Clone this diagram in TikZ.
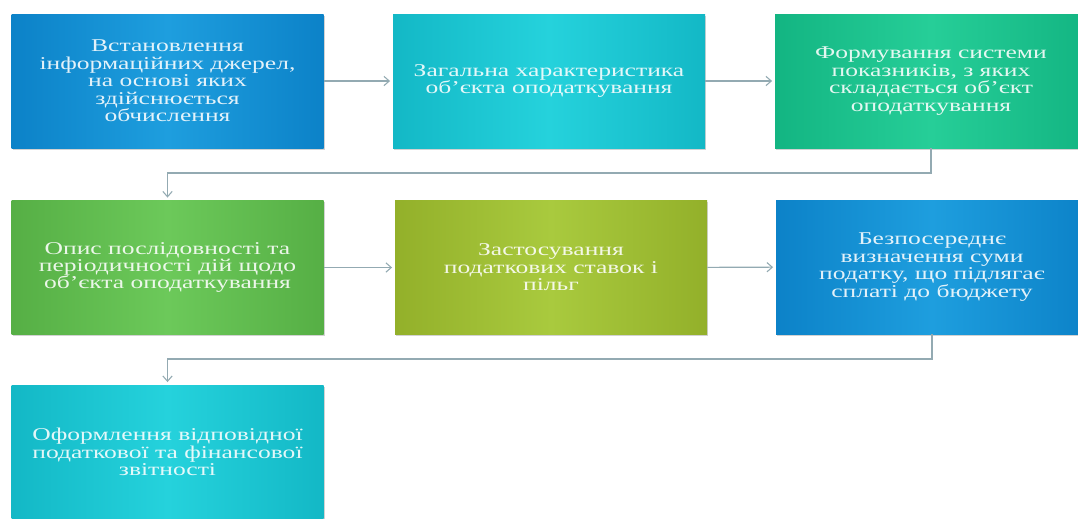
\documentclass[tikz,border=0pt]{standalone}
\usepackage{xcolor}
\usepackage{fontspec}
\setmainfont{Liberation Serif}[FakeStretch=1.42]
\usepackage{tikz}
\usetikzlibrary{arrows.meta,shadows}
\definecolor{C1}{HTML}{0C82C8}
\definecolor{C1m}{HTML}{1E9EDE}
\definecolor{C2}{HTML}{13B8C6}
\definecolor{C2m}{HTML}{25D2DC}
\definecolor{C3}{HTML}{13B582}
\definecolor{C3m}{HTML}{26CE98}
\definecolor{C4}{HTML}{56AF45}
\definecolor{C4m}{HTML}{6CC95A}
\definecolor{C5}{HTML}{93B02A}
\definecolor{C5m}{HTML}{A9CA3E}
\definecolor{L0}{HTML}{93AAB2}
\tikzset{
  stepbox/.style={minimum width=234pt, minimum height=100.5pt, inner sep=0pt,
    align=center, text=white, text opacity=0.88,
    font=\fontsize{13.5}{13.1}\selectfont,
    drop shadow={opacity=0.35, shadow xshift=1pt, shadow yshift=-1.2pt}},
  link/.style={draw=L0, line width=0.8pt, -{Straight Barb[length=4pt,width=7pt]}, shorten >=2pt}
}

\begin{document}
\begin{tikzpicture}[x=0.75pt, y=-0.75pt]%
\fill[white] (0,0) rectangle (1078,518);%
\clip (0,0) rectangle (1078,518);%
% row 1
\node[stepbox, left color=C1, right color=C1, middle color=C1m] (b1) at (167.5, 81) {Встановлення\\ інформаційних джерел,\\ на основі яких\\ здійснюється\\ обчислення};%
\node[stepbox, left color=C2, right color=C2, middle color=C2m] (b2) at (549, 81) {Загальна характеристика\\ об’єкта оподаткування};%
\node[stepbox, left color=C3, right color=C3, middle color=C3m] (b3) at (931, 81) {Формування системи\\ показників, з яких\\ складається об’єкт\\ оподаткування};%
% row 2
\node[stepbox, left color=C4, right color=C4, middle color=C4m] (b4) at (167.5, 267.5) {Опис послідовності та\\ періодичності дій щодо\\ об’єкта оподаткування};%
\node[stepbox, left color=C5, right color=C5, middle color=C5m] (b5) at (551, 267.5) {Застосування\\ податкових ставок і\\ пільг};%
\node[stepbox, left color=C1, right color=C1, middle color=C1m] (b6) at (932, 267) {Безпосереднє\\ визначення суми\\ податку, що підлягає\\ сплаті до бюджету};%
% row 3
\node[stepbox, left color=C2, right color=C2, middle color=C2m] (b7) at (167.5, 452) {Оформлення відповідної\\ податкової та фінансової\\ звітності};%
% connectors
\coordinate (t1) at (0, 173);%
\coordinate (t2) at (0, 359);%
\draw[link] (b1) -- (b2);%
\draw[link] (b2) -- (b3);%
\draw[link] (b3.south) -- (b3.south |- t1) -| (b4.north);%
\draw[link] (b4) -- (b5);%
\draw[link] (b5) -- (b6);%
\draw[link] (b6.south) -- (b6.south |- t2) -| (b7.north);%
\end{tikzpicture}
\end{document}
